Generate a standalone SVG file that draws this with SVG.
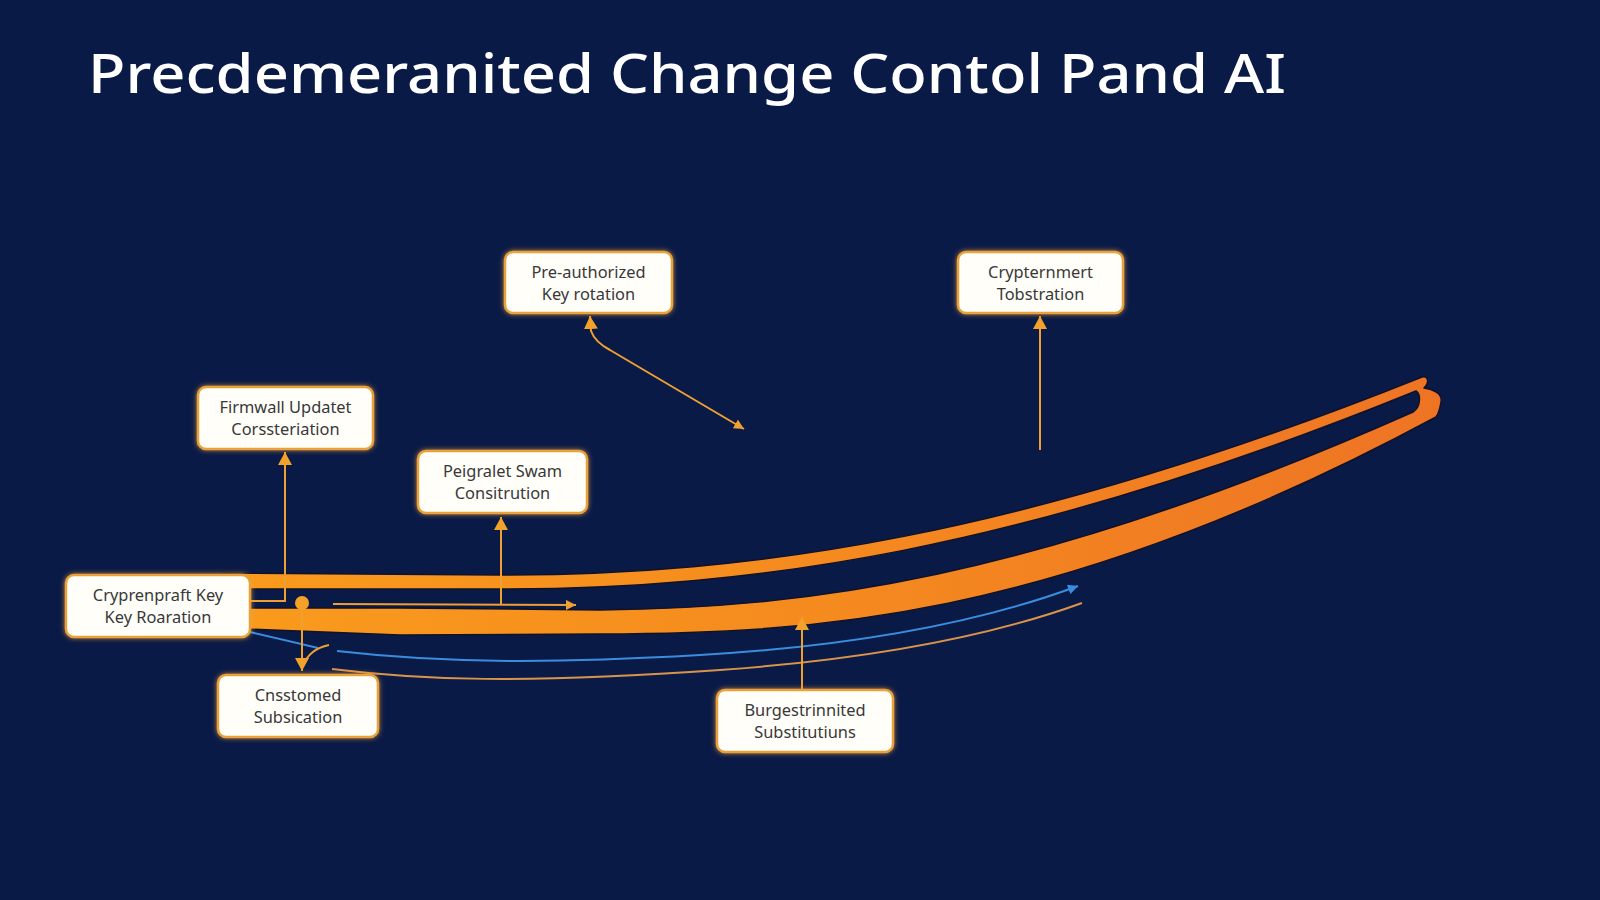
<svg xmlns="http://www.w3.org/2000/svg" width="1600" height="900" viewBox="0 0 1600 900">
<defs>
<style>
.title{font-family:"Noto Sans","Liberation Sans",sans-serif;font-weight:500;font-size:54px;fill:#FFFFFF}
.box{fill:#FFFEF8;stroke:#E9A23A;stroke-width:2.5}
.lbl{font-family:"Noto Sans","Liberation Sans",sans-serif;font-size:16.4px;fill:#383838;text-anchor:middle}
.con{fill:none;stroke:#EFA030;stroke-width:2}
.blue{fill:none;stroke:#3A8DDE;stroke-width:2}
.tan{fill:none;stroke:#D9934A;stroke-width:2}
</style>
<linearGradient id="band" x1="222" y1="0" x2="1442" y2="0" gradientUnits="userSpaceOnUse">
<stop offset="0" stop-color="#F99B1C"/>
<stop offset="0.5" stop-color="#F58A1F"/>
<stop offset="1" stop-color="#EE7424"/>
</linearGradient>
<filter id="glow" x="-20%" y="-30%" width="140%" height="160%">
<feDropShadow dx="0" dy="0" stdDeviation="2.5" flood-color="#F2A035" flood-opacity="0.8"/>
</filter>
<marker id="arr" markerUnits="userSpaceOnUse" markerWidth="14" markerHeight="14" refX="13" refY="7" orient="auto-start-reverse" viewBox="0 0 14 14">
<path d="M0,0 L13,7 L0,14 z" fill="#F2A22A"/>
</marker>
<marker id="arrS" markerUnits="userSpaceOnUse" markerWidth="11" markerHeight="10" refX="10" refY="5" orient="auto" viewBox="0 0 11 10">
<path d="M0,0 L10,5 L0,10 z" fill="#EFA030"/>
</marker>
<marker id="arrB" markerUnits="userSpaceOnUse" markerWidth="11" markerHeight="10" refX="10" refY="5" orient="auto" viewBox="0 0 11 10">
<path d="M0,0 L10,5 L0,10 z" fill="#3A8DDE"/>
</marker>
</defs>
<rect x="0" y="0" width="1600" height="900" fill="#0A1A47"/>
<text class="title" x="88" y="93" textLength="1198" lengthAdjust="spacingAndGlyphs">Precdemeranited Change Contol Pand AI</text>

<g id="band-loop">
<path d="M222,573 L500,575 C750,575 1020,538 1422,377 C1428,375 1430,383 1424,388 C1432,389 1443,393 1441,402 C1440,408 1439,413 1436,417 C1050,625 800,633 600,634 L400,635 L245,629 L245,608 L400,608 L600,610 C800,608 1030,582 1413,412 C1421,407 1421,394 1416,391 C1020,552 750,589 500,589 L222,589 Z" fill="url(#band)" stroke="#10122a" stroke-width="1.5" stroke-linejoin="round"/>
</g>

<g id="connectors">
<path class="blue" d="M250,632 Q285,640 318,648"/>
<path class="blue" d="M337,651 C450,664 560,663 700,655 C820,648 960,630 1078,586" marker-end="url(#arrB)"/>
<path class="tan" d="M332,669 C420,680 520,684 720,670 C860,660 980,640 1082,603"/>
<path class="con" d="M590,316 L591,331 Q595,342 610,350 L744,429" marker-start="url(#arr)" marker-end="url(#arrS)"/>
<path class="con" d="M1040,450 L1040,316" marker-end="url(#arr)"/>
<path class="con" d="M250,601 L285,601 L285,452" marker-end="url(#arr)"/>
<path class="con" d="M501,604 L501,517" marker-end="url(#arr)"/>
<path class="con" d="M333,604 L576,605" marker-end="url(#arrS)"/>
<circle cx="302" cy="603" r="7" fill="#F5A02A"/>
<path class="con" d="M302,610 L302,671" marker-end="url(#arr)"/>
<path class="con" d="M303,666 Q309,649 329,645"/>
<path class="con" d="M802,690 L802,617" marker-end="url(#arr)"/>
</g>

<g id="n-preauth">
<rect class="box" x="505" y="252" width="167" height="61" rx="8" filter="url(#glow)"/>
<text class="lbl" x="588.5" y="278">Pre-authorized</text>
<text class="lbl" x="588.5" y="300">Key rotation</text>
</g>
<g id="n-crypternmert">
<rect class="box" x="958" y="252" width="165" height="61" rx="8" filter="url(#glow)"/>
<text class="lbl" x="1040.5" y="278">Crypternmert</text>
<text class="lbl" x="1040.5" y="300">Tobstration</text>
</g>
<g id="n-firmwall">
<rect class="box" x="198" y="387" width="175" height="62" rx="8" filter="url(#glow)"/>
<text class="lbl" x="285.5" y="413">Firmwall Updatet</text>
<text class="lbl" x="285.5" y="435">Corssteriation</text>
</g>
<g id="n-peigralet">
<rect class="box" x="418" y="451" width="169" height="62" rx="8" filter="url(#glow)"/>
<text class="lbl" x="502.5" y="477">Peigralet Swam</text>
<text class="lbl" x="502.5" y="499">Consitrution</text>
</g>
<g id="n-cryprenpraft">
<rect class="box" x="66" y="575" width="184" height="62" rx="8" filter="url(#glow)"/>
<text class="lbl" x="158" y="601">Cryprenpraft Key</text>
<text class="lbl" x="158" y="623">Key Roaration</text>
</g>
<g id="n-cnsstomed">
<rect class="box" x="218" y="675" width="160" height="62" rx="8" filter="url(#glow)"/>
<text class="lbl" x="298" y="701">Cnsstomed</text>
<text class="lbl" x="298" y="723">Subsication</text>
</g>
<g id="n-burgestrinnited">
<rect class="box" x="717" y="690" width="176" height="62" rx="8" filter="url(#glow)"/>
<text class="lbl" x="805" y="716">Burgestrinnited</text>
<text class="lbl" x="805" y="738">Substitutiuns</text>
</g>
</svg>
